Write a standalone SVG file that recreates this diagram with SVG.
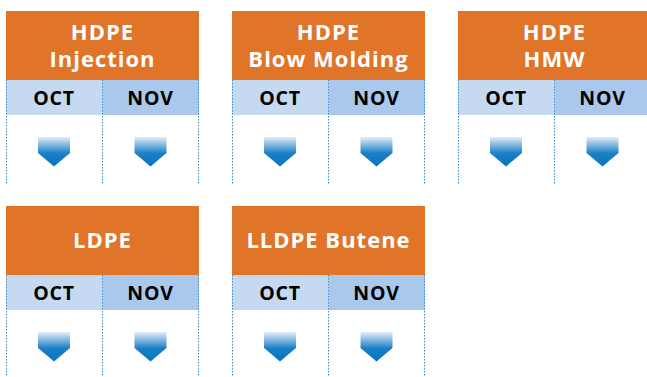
<svg xmlns="http://www.w3.org/2000/svg" width="647" height="377" viewBox="0 0 647 377">
<style>
.hdr{fill:#E07428}
.oct{fill:#C5D9F1}
.nov{fill:#A9C8EB}
.ttl{font-family:"Open Sans","Liberation Sans",sans-serif;font-weight:bold;font-size:22px;fill:#fff;text-anchor:middle;letter-spacing:1px}
.mo{font-family:"Open Sans","Liberation Sans",sans-serif;font-weight:bold;font-size:19.5px;fill:#000;text-anchor:middle;letter-spacing:0.8px}
.dot{stroke:#3A8CD0;stroke-width:1;stroke-dasharray:1.5 1.5;fill:none}
</style>
<defs>
<linearGradient id="ag" x1="0" y1="0" x2="0" y2="1">
<stop offset="0" stop-color="#E4EEF8"/>
<stop offset="0.55" stop-color="#1A80C6"/>
<stop offset="1" stop-color="#0873BE"/>
</linearGradient>
<path id="arr" d="M-16,0 H16 V16 L0,29.5 L-16,16 Z" fill="url(#ag)"/>
<g id="cell">
<rect class="oct" x="0" y="69" width="96.5" height="35"/>
<rect class="nov" x="96.5" y="69" width="96.5" height="35"/>
<text class="mo" x="48" y="93.5">OCT</text>
<text class="mo" x="144.5" y="93.5">NOV</text>
<use href="#arr" x="48" y="126"/>
<use href="#arr" x="144.5" y="126"/>
</g>
</defs>
<g id="hdpe-injection" transform="translate(6,11)">
<rect class="hdr" x="0" y="0" width="193" height="69"/>
<text class="ttl" x="96.5" y="29">HDPE</text>
<text class="ttl" x="96.5" y="56">Injection</text>
<use href="#cell"/>
</g>
<g id="hdpe-blow" transform="translate(232,11)">
<rect class="hdr" x="0" y="0" width="193" height="69"/>
<text class="ttl" x="96.5" y="29">HDPE</text>
<text class="ttl" x="96.5" y="56">Blow Molding</text>
<use href="#cell"/>
</g>
<g id="hdpe-hmw" transform="translate(458,11)">
<rect class="hdr" x="0" y="0" width="193" height="69"/>
<text class="ttl" x="96.5" y="29">HDPE</text>
<text class="ttl" x="96.5" y="56">HMW</text>
<use href="#cell"/>
</g>
<g id="ldpe" transform="translate(6,206)">
<rect class="hdr" x="0" y="0" width="193" height="69"/>
<text class="ttl" x="96.5" y="42">LDPE</text>
<use href="#cell"/>
</g>
<g id="lldpe-butene" transform="translate(232,206)">
<rect class="hdr" x="0" y="0" width="193" height="69"/>
<text class="ttl" x="96.5" y="42">LLDPE Butene</text>
<use href="#cell"/>
</g>
<g id="connectors">
<path class="dot" d="M6.5,80 V184 M102.5,80 V184 M198.5,80 V184 M232.5,80 V184 M328.5,80 V184 M424.5,80 V184 M458.5,80 V184 M554.5,80 V184"/>
<path class="dot" d="M6.5,275 V377 M102.5,275 V377 M198.5,275 V377 M232.5,275 V377 M328.5,275 V377 M424.5,275 V377"/>
</g>
</svg>
